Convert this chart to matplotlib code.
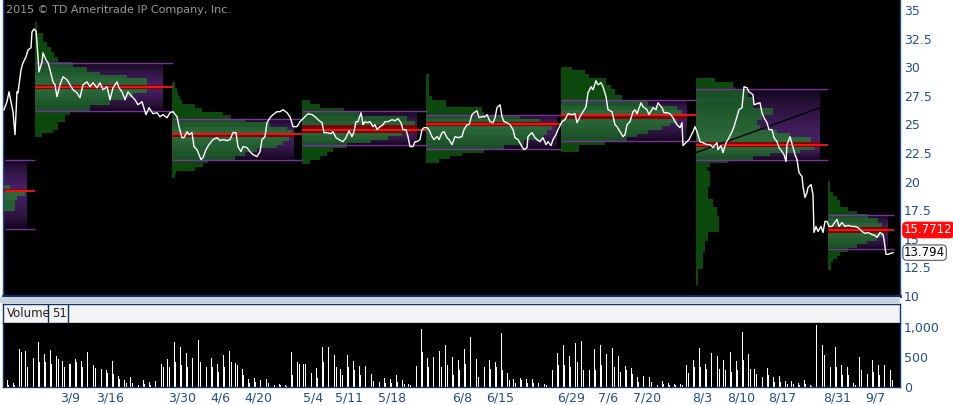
import matplotlib.pyplot as plt
import numpy as np
from matplotlib.colors import LinearSegmentedColormap, to_rgb
from matplotlib.patches import Rectangle
from matplotlib.transforms import blended_transform_factory

# price line (bar slot, last)
t_price = [4, 7, 9, 11, 13, 15, 17, 18, 21, 23, 26, 28, 31, 32, 34, 36, 37, 39, 42, 43,
           46, 48, 50, 53, 55, 57, 60, 63, 67, 70, 73, 77, 80, 83, 87, 90, 93, 97, 100, 103,
           107, 110, 113, 117, 119, 122, 125, 128, 132, 135, 138, 142, 146, 149, 153, 157,
           160, 163, 167, 170, 173, 177, 179, 182, 184, 187, 189, 192, 194, 197, 201, 203,
           206, 209, 213, 217, 220, 223, 227, 230, 233, 236, 238, 241, 243, 247, 250, 253,
           257, 260, 262, 265, 267, 270, 273, 277, 280, 283, 287, 290, 293, 297, 300,
           302, 305, 308, 312, 315, 318, 322, 324, 327, 331, 333, 336, 339, 343, 346, 349,
           352, 354, 356, 358, 361, 363, 365, 367, 370, 373, 375, 377, 380, 383, 385, 388,
           392, 395, 398, 401, 403, 406, 408, 410, 413, 415, 417, 420, 422, 424, 427, 429,
           432, 434, 437, 439, 442, 444, 447, 449,
           452, 455, 458, 462, 464, 467, 469, 472, 474, 477, 479, 482, 485, 487, 490, 493,
           495, 497, 500, 502, 504, 507, 510, 513, 515, 518, 522, 524, 527, 528, 532, 535,
           537, 540, 543, 546, 548, 551, 553, 556, 558, 562, 565, 568, 572, 575, 577, 580,
           583, 586, 588, 591, 593, 596, 598, 601, 603, 606, 608,
           612, 615, 617, 620, 623, 625, 627, 630, 633, 635, 637, 641, 643, 647, 649, 653,
           656, 658, 662, 664, 667, 670, 673, 675, 677, 680, 682, 683, 686, 689, 693, 695,
           697, 700, 703, 707, 710, 713, 717, 718, 721, 723, 726, 728, 732, 734, 737, 739,
           742, 743, 744, 747, 749, 753, 754, 757, 760, 762, 764, 767, 769, 772, 774, 777,
           779, 782, 784, 786, 787, 790, 793, 795, 797, 799, 802, 803, 805, 807, 808, 811,
           813, 814, 816, 818, 821, 823, 825, 827, 829, 832, 834, 837, 839, 842, 845, 848,
           852, 855, 858, 862, 865, 868, 872, 875, 877, 880, 883, 884, 886, 888, 891, 893]
price = [26.28, 26.98, 27.85, 26.98, 26.11, 24.10, 27.85, 27.76, 29.77, 30.38, 30.90, 31.51,
         31.69, 33.08, 33.34, 33.17, 32.12, 29.59, 30.47, 31.25, 30.64, 30.38, 29.77, 28.72,
         28.46, 27.42, 28.46, 29.16, 28.90, 28.46, 28.03, 27.76, 27.33, 28.46, 28.72, 28.29,
         28.64, 28.20, 28.64, 28.03, 28.29, 27.15, 28.20, 28.72, 28.20, 27.85, 27.15, 27.85,
         27.42, 27.15, 26.72, 26.98, 25.85, 26.46, 25.93, 26.02,
         25.67, 25.85, 25.58, 26.02, 26.11, 25.67, 24.80, 23.84, 23.84, 24.36, 24.10, 24.28,
         23.06, 22.79, 21.92, 22.10, 22.79, 23.23, 23.67, 23.84, 23.58, 23.67, 23.58, 23.67,
         24.28, 24.28, 23.06, 22.62, 23.06, 22.97, 22.62, 22.36, 22.18, 22.62, 23.67, 23.93,
         25.15, 25.58, 25.85, 26.11, 26.11, 26.28, 26.02, 25.67, 24.80, 24.80, 25.24,
         25.41, 25.67, 25.93, 25.85, 25.67, 25.41, 25.15, 24.28, 24.28, 24.19, 24.36, 23.84,
         23.67, 23.49, 23.84, 24.45, 23.93, 24.36, 25.24, 25.24, 26.02, 24.97, 25.24, 25.15,
         25.24, 24.80, 24.97, 24.54, 24.80, 24.97, 25.24, 25.24, 25.41, 25.32, 25.50, 25.15,
         24.54, 24.54, 23.93, 23.06, 23.06, 23.49, 23.49, 23.67, 24.54, 24.71, 24.71, 24.54,
         23.93, 23.67, 23.93, 23.67, 24.28, 24.36, 23.84, 23.67,
         23.23, 23.93, 23.84, 23.93, 24.54, 24.97, 24.97, 25.85, 26.02, 26.19, 25.58, 25.67,
         25.67, 25.85, 25.24, 25.15, 25.58, 26.46, 26.72, 25.67, 25.24, 25.15, 24.97, 24.54,
         23.84, 23.67, 23.06, 22.79, 22.97, 23.93, 24.28, 23.84, 23.67, 23.49, 23.84, 23.23,
         23.49, 23.14, 23.67, 24.10, 24.54, 25.24, 25.41, 25.93, 25.85, 25.93, 25.15, 25.67,
         26.11, 26.54, 27.76, 28.29, 28.03, 28.81, 28.46, 28.64, 28.29, 27.42, 26.28,
         26.11, 24.97, 24.80, 24.36, 23.93, 24.10, 24.97, 25.24, 26.11, 26.28, 25.93, 26.89,
         26.54, 26.28, 25.85, 26.46, 26.28, 26.89, 26.46, 26.02, 26.02, 25.93, 25.58, 25.24,
         24.97, 24.71, 25.15, 23.14, 23.40, 23.67, 24.36, 24.80, 24.36, 23.49, 23.40, 23.23,
         23.23, 22.97, 23.40, 22.79, 23.14, 22.53, 23.40, 23.67, 24.36, 24.80, 25.67, 26.28,
         26.46, 27.42, 28.29, 28.20, 27.85, 27.59, 26.72, 26.81, 26.89, 26.02, 25.58, 25.15,
         24.54, 24.54, 23.84, 23.49, 22.97, 22.62, 22.36, 21.75, 23.23, 23.93, 22.97, 22.36,
         21.92, 20.79, 20.44, 19.57, 18.61, 19.05, 19.48, 19.74, 18.87, 15.55, 16.08, 15.64,
         16.08, 15.55, 16.52, 16.52, 16.08, 16.08, 16.34, 16.69, 16.08, 16.43, 16.08, 16.17,
         16.08, 16.08, 15.99, 15.64, 15.47, 15.55, 15.38, 15.29, 15.12, 15.55, 15.38, 14.94,
         13.64, 13.64, 13.73, 13.79]

# composite volume profiles
prof_start = [3, 35, 172, 302, 426, 561, 696, 828]
prof_line_end = [35, 173, 302, 427, 561, 697, 828, 894]
prof_vah = [21.92, 30.38, 25.47, 26.13, 25.82, 27.13, 28.09, 17.10]
prof_val = [15.82, 26.19, 21.90, 23.17, 22.86, 23.58, 21.90, 14.14]
prof_poc = [19.22, 28.29, 24.19, 24.48, 25.06, 25.82, 23.20, 15.7712]

# profile rows: price edges top -> bottom, row width in bar slots
p0_edges = [19.66, 19.39, 19.05, 18.70, 18.35, 17.39]
p0_vol = [7, 24, 22, 14, 12]
p1_edges = [33.95, 33.00, 32.21, 31.77, 31.34, 30.90, 30.47, 30.03, 29.59, 29.33, 29.07, 28.46,
            28.11, 27.76, 27.42, 27.15, 26.72, 26.19, 25.85, 25.24, 24.54, 24.28, 23.93]
p1_vol = [2, 8, 12, 16, 19, 23, 38, 52, 65, 92, 112, 128, 112, 98, 88, 75, 55, 35, 30, 23, 18, 7]
p2_edges = [28.72, 28.20, 27.85, 27.50, 27.15, 26.81, 26.46, 26.11, 25.85, 25.50, 25.24, 24.80,
            24.54, 24.28, 23.93, 23.58, 23.23, 22.97, 22.62, 22.27, 21.92, 21.66, 21.31, 20.96,
            20.62, 20.35]
p2_vol = [3, 5, 6, 8, 10, 23, 30, 51, 59, 73, 98, 115, 120, 122, 117, 111, 105, 85, 73, 63, 36,
          31, 23, 4, 3]
p3_edges = [27.15, 26.81, 26.46, 26.11, 25.76, 25.32, 24.97, 24.28, 24.02, 23.67, 23.41, 22.97,
            22.62, 22.27, 21.92, 21.57]
p3_vol = [8, 18, 42, 57, 105, 113, 115, 100, 86, 69, 45, 31, 25, 18, 8]
p4_edges = [29.42, 27.50, 27.15, 26.54, 26.11, 25.85, 25.50, 25.24, 24.89, 24.54, 24.10, 23.67,
            23.23, 22.88, 22.53, 22.27, 22.01, 21.66]
p4_vol = [3, 6, 20, 56, 58, 94, 114, 131, 126, 121, 117, 98, 78, 58, 36, 24, 13]
p5_edges = [30.03, 29.77, 29.42, 29.07, 28.46, 28.11, 27.59, 27.15, 26.63, 26.28, 25.85, 25.50,
            25.15, 24.89, 24.54, 24.19, 23.93, 23.58, 23.23, 22.62]
p5_vol = [11, 24, 28, 45, 50, 54, 61, 87, 116, 121, 126, 116, 109, 101, 87, 76, 66, 44, 18]
p6_edges = [29.07, 28.72, 28.29, 28.11, 27.42, 26.46, 25.85, 25.41, 24.97, 24.54, 24.28, 23.93,
            23.49, 23.06, 22.79, 22.53, 22.27, 21.92, 21.66, 21.31, 20.96, 19.57, 18.44, 17.74,
            16.95, 15.56, 14.77, 13.82, 12.33, 10.94]
p6_vol = [19, 37, 39, 52, 57, 77, 66, 61, 64, 81, 94, 115, 124, 119, 104, 74, 57, 32, 14, 11,
          14, 12, 17, 21, 23, 12, 9, 7, 2]
p7_edges = [20.01, 19.05, 18.70, 18.35, 17.74, 17.39, 17.13, 16.78, 16.34, 16.00, 15.47, 15.12,
            14.77, 14.51, 14.16, 13.82, 13.47, 13.20, 12.94, 12.25]
p7_vol = [2, 5, 9, 12, 20, 29, 40, 50, 54, 60, 55, 49, 39, 29, 20, 12, 9, 5, 3]

trend_t = [696, 820]
trend_p = [22.53, 26.46]

# volume, two bars per day
vol_a = [112, 73, 632, 598, 531, 755, 542, 615, 520, 430, 380, 464, 430, 587, 363, 380, 280,
         430, 184, 112, 168, 84, 112, 84, 95, 380, 475, 755, 671, 570, 486, 783, 503, 486, 391,
         531, 598, 402, 296, 129, 151, 112, 140, 73, 56, 39, 576, 419, 391, 335, 319, 671, 671,
         531, 296, 531, 436, 352, 347, 212, 157, 145, 140, 196, 112, 56, 660, 967, 486, 503,
         598, 699, 503, 450, 632, 838,
         475, 419, 447, 419, 894, 240, 129, 151, 129, 129, 73, 56, 391, 559, 699, 514, 727, 766,
         799, 632, 699, 542, 654, 520, 352, 319, 168, 179, 168, 84, 95, 73, 56, 56, 363, 447,
         654, 391, 559, 514, 458, 587, 430, 922, 542, 307, 263, 319, 168, 179, 95, 95, 73, 112,
         39, 1034, 699, 587, 671, 363, 335, 73, 503, 391, 447, 363, 374, 280]
vol_b = [40, 30, 587, 335, 486, 419, 419, 391, 475, 335, 380, 419, 335, 391, 319, 307, 240,
         224, 140, 60, 70, 40, 50, 40, 45, 335, 335, 419, 363, 335, 252, 419, 335, 335, 252,
         335, 419, 363, 207, 60, 84, 60, 70, 35, 30, 20, 196, 391, 391, 240, 150, 419, 363,
         335, 196, 335, 280, 196, 207, 100, 80, 70, 70, 90, 50, 30, 352, 587, 335, 363, 335,
         363, 196, 280, 391, 391,
         168, 335, 307, 335, 280, 120, 60, 112, 60, 60, 35, 30, 280, 363, 363, 335, 419, 280,
         280, 280, 363, 307, 335, 252, 280, 224, 80, 90, 80, 40, 45, 35, 30, 30, 240, 335, 335,
         307, 335, 307, 280, 252, 280, 447, 307, 224, 168, 196, 80, 90, 45, 45, 35, 50, 20, 419,
         531, 335, 335, 196, 196, 35, 280, 224, 252, 196, 196, 120]

date_pos = [70, 110, 182, 220, 258, 313, 349, 392, 462, 500, 571, 608, 647, 702, 741, 782, 837, 875]
date_labels = ['3/9', '3/16', '3/30', '4/6', '4/20', '5/4', '5/11', '5/18', '6/8', '6/15',
               '6/29', '7/6', '7/20', '8/3', '8/10', '8/17', '8/31', '9/7']

blue = '#1f4f8f'
W, H = 954, 405
fig = plt.figure(figsize=(W / 100, H / 100), dpi=100)
fig.patch.set_facecolor('white')

def fx(px):
    return px / W

def fy(py):
    return 1 - py / H

ax = fig.add_axes([fx(3), fy(296), fx(897), 296 / H])
ax.set_facecolor('black')
ax.set_xlim(3, 900)
ax.set_ylim(10.06, 35.872)

purple = LinearSegmentedColormap.from_list('pp', ['#050008', '#4a2168'])
g_edge = np.array(to_rgb('#184d24'))
g_mid = np.array(to_rgb('#2e6c3c'))

profiles = [(p0_edges, p0_vol), (p1_edges, p1_vol), (p2_edges, p2_vol), (p3_edges, p3_vol),
            (p4_edges, p4_vol), (p5_edges, p5_vol), (p6_edges, p6_vol), (p7_edges, p7_vol)]

for k, (edges, vol) in enumerate(profiles):
    x0 = prof_start[k]
    vah, val, poc = prof_vah[k], prof_val[k], prof_poc[k]
    edges = np.array(edges)
    vol = np.array(vol)
    wmax = vol.max()
    # value area backdrop
    ys = np.linspace(vah, val, 150)
    g = np.where(ys > poc, (vah - ys) / (vah - poc), (ys - val) / (poc - val))
    ax.imshow(np.sqrt(g)[:, None], extent=[x0, x0 + wmax, val, vah], cmap=purple, vmin=0, vmax=1,
              aspect='auto', interpolation='bilinear', zorder=1)
    ipoc = int(np.argmax(vol))
    for i in range(len(vol)):
        top, bot = edges[i], edges[i + 1]
        mid = (top + bot) / 2
        if i == ipoc:
            c = '#7a0606'
        elif val <= mid <= vah:
            if mid > poc:
                t = (vah - mid) / (vah - poc)
            else:
                t = (mid - val) / (poc - val)
            c = tuple(g_edge + (g_mid - g_edge) * t)
        else:
            c = '#0b4a0c'
        ax.barh(bot, vol[i], height=top - bot, left=x0, align='edge', color=c, lw=0, zorder=2)
    line_x0 = x0 + 2 if k == 0 else x0
    ax.hlines([vah, val], line_x0, prof_line_end[k], color='#7e2fa0', lw=1, zorder=3)
    ax.hlines(poc, line_x0, prof_line_end[k], color='#ff1414', lw=1.3, zorder=4)

ax.plot(trend_t, trend_p, color='black', lw=1, zorder=4)
ax.plot(t_price, price, color='white', lw=1, zorder=5)

ax.text(0.003, 0.966, '2015 \u00a9 TD Ameritrade IP Company, Inc.', transform=ax.transAxes,
        color='#9a9a9a', fontsize=8, va='center', ha='left')

yt = [10, 12.5, 15, 17.5, 20, 22.5, 25, 27.5, 30, 32.5, 35]
ax.yaxis.tick_right()
ax.set_yticks(yt)
ax.set_yticklabels(['%g' % v for v in yt])
ax.tick_params(axis='y', length=0, pad=3, labelcolor=blue, labelsize=9)
ax.set_xticks([])
ax.spines['top'].set_visible(False)
for s in ['left', 'right']:
    ax.spines[s].set_color(blue)
    ax.spines[s].set_linewidth(1)
ax.spines['bottom'].set_color('#0a3570')
ax.spines['bottom'].set_linewidth(2)

tr = blended_transform_factory(ax.transAxes, ax.transData)
ax.text(1.0045, prof_poc[-1], '15.7712', transform=tr, color='white', fontsize=8.5,
        va='center', ha='left', clip_on=False, zorder=10,
        bbox=dict(boxstyle='round,pad=0.1,rounding_size=0.35', fc='#ff0a0a', ec='#ff0a0a'))
ax.text(1.0045, price[-1], '13.794', transform=tr, color='black', fontsize=8.5,
        va='center', ha='left', clip_on=False, zorder=10,
        bbox=dict(boxstyle='round,pad=0.1,rounding_size=0.35', fc='white', ec='#555555', lw=0.8))

# separator strip
fig.add_artist(Rectangle((0, fy(303)), fx(900), 6 / H, transform=fig.transFigure,
                         facecolor='#c9d1dc', edgecolor='none', zorder=5))

# volume header
hax = fig.add_axes([fx(3), fy(323), fx(897), 19 / H])
hax.set_facecolor('#f3f3f3')
hax.set_xticks([])
hax.set_yticks([])
for s in hax.spines.values():
    s.set_color('#0a3570')
    s.set_linewidth(1)
hax.set_xlim(3, 900)
hax.set_ylim(0, 1)
hax.axvline(48, color='#0a3570', lw=1)
hax.axvline(68, color='#0a3570', lw=1)
hax.text(7, 0.5, 'Volume', fontsize=8.5, va='center', ha='left', color='#222222')
hax.text(52, 0.5, '51', fontsize=8.5, va='center', ha='left', color='#222222')

# volume panel
vax = fig.add_axes([fx(3), fy(387), fx(897), 64 / H])
vax.set_facecolor('black')
day_x = 7.3 + 6.178 * np.arange(len(vol_a))
vax.bar(day_x, vol_a, width=0.9, color='white', lw=0)
vax.bar(day_x + 1.4, vol_b, width=0.9, color='white', lw=0)
vax.set_xlim(3, 900)
vax.set_ylim(0, 1067)
vax.yaxis.tick_right()
vax.set_yticks([0, 500, 1000])
vax.set_yticklabels(['0', '500', '1,000'])
vax.tick_params(axis='y', length=0, pad=3, labelcolor=blue, labelsize=9)
vax.set_xticks(date_pos)
vax.set_xticklabels(date_labels)
vax.tick_params(axis='x', length=0, pad=3, labelcolor=blue, labelsize=9)
for s in vax.spines.values():
    s.set_color('#0a3570')
    s.set_linewidth(1)
vax.spines['top'].set_visible(False)

fig.savefig('out.png', dpi=100, facecolor='white')
